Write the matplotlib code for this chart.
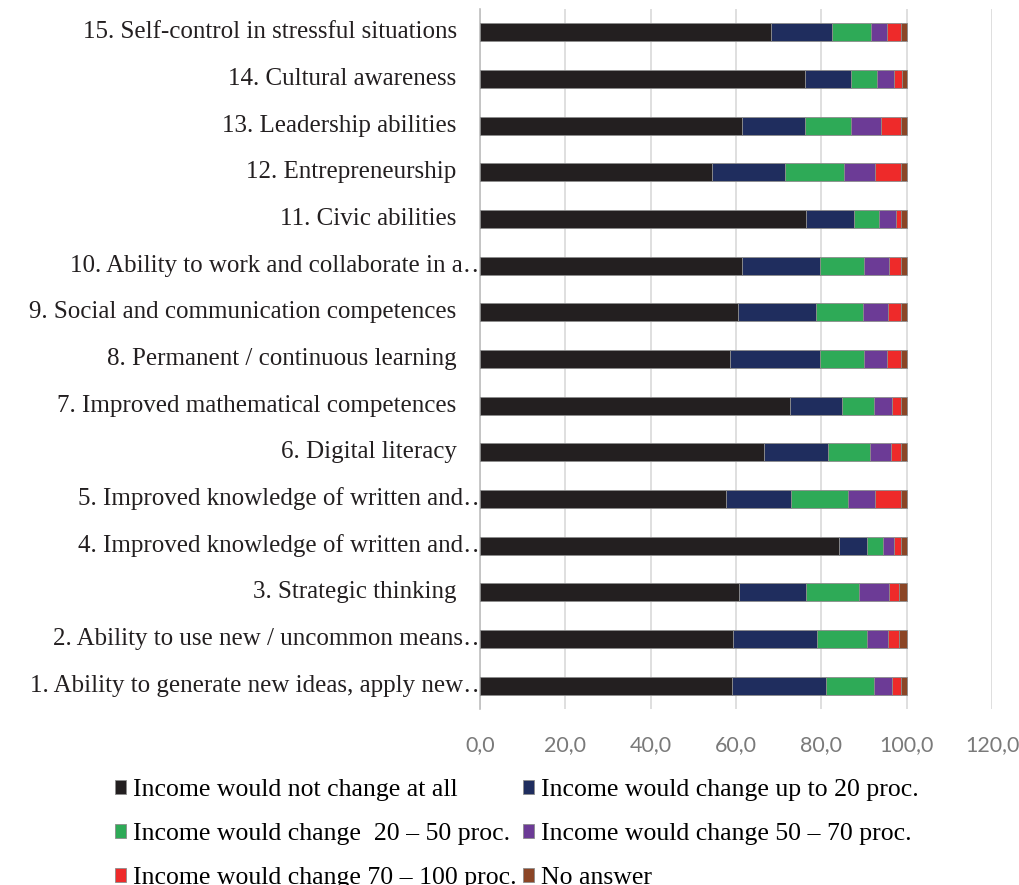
import numpy as np
import matplotlib
matplotlib.use('Agg')
import matplotlib.pyplot as plt
import matplotlib.transforms as mtransforms

# competences, bottom to top
labels = [
    '1. Ability to generate new ideas, apply new…',
    '2. Ability to use new / uncommon means…',
    '3. Strategic thinking ',
    '4. Improved knowledge of written and…',
    '5. Improved knowledge of written and…',
    '6. Digital literacy ',
    '7. Improved mathematical competences ',
    '8. Permanent / continuous learning ',
    '9. Social and communication competences ',
    '10. Ability to work and collaborate in a…',
    '11. Civic abilities ',
    '12. Entrepreneurship ',
    '13. Leadership abilities ',
    '14. Cultural awareness ',
    '15. Self-control in stressful situations ',
]
truncated = [0, 1, 3, 4, 9]

no_change = [59.1, 59.4, 60.7, 84.1, 57.6, 66.5, 72.6, 58.6, 60.5, 61.3, 76.5, 54.4, 61.5, 76.2, 68.1]
up_to_20 = [22.1, 19.7, 15.8, 6.6, 15.2, 15.0, 12.2, 21.0, 18.2, 18.3, 11.2, 17.1, 14.7, 10.8, 14.4]
from_20_50 = [11.1, 11.6, 12.3, 3.7, 13.4, 9.9, 7.5, 10.3, 11.0, 10.3, 5.8, 13.9, 10.8, 6.0, 9.2]
from_50_70 = [4.2, 4.9, 7.1, 2.6, 6.4, 4.9, 4.2, 5.5, 6.0, 6.0, 4.0, 7.2, 7.1, 4.0, 3.7]
from_70_100 = [2.1, 2.7, 2.4, 1.6, 6.0, 2.3, 2.1, 3.2, 2.9, 2.7, 1.2, 6.0, 4.5, 1.8, 3.2]
no_answer = [1.4, 1.7, 1.7, 1.4, 1.4, 1.4, 1.4, 1.4, 1.4, 1.4, 1.3, 1.4, 1.4, 1.2, 1.4]

series = [
    ('Income would not change at all', no_change, '#231f20'),
    ('Income would change up to 20 proc.', up_to_20, '#1f2d5e'),
    ('Income would change  20 – 50 proc.', from_20_50, '#2eaa57'),
    ('Income would change 50 – 70 proc.', from_50_70, '#6c3b96'),
    ('Income would change 70 – 100 proc.', from_70_100, '#ee2a2a'),
    ('No answer', no_answer, '#8b4526'),
]

fig = plt.figure(figsize=(10.2, 8.85), dpi=100)
ax = fig.add_axes([480 / 1020, 176 / 885, 512 / 1020, 700 / 885])

y = np.arange(len(labels))
left = np.zeros(len(labels))
handles = []
for name, vals, col in series:
    vals = np.array(vals)
    b = ax.barh(y, vals, left=left, height=0.38, color=col, label=name,
                edgecolor='#8c8c8c', linewidth=0.6, zorder=3)
    handles.append(b)
    left += vals

ax.set_xlim(0, 120)
ax.set_ylim(-0.5, len(labels) - 0.5)
ax.set_xticks(np.arange(0, 121, 20))
ax.set_xticklabels([f'{v:.1f}'.replace('.', ',') for v in np.arange(0, 121, 20)],
                   fontsize=15.5, color='#7a7a7a', family='Lato')
ax.tick_params(axis='x', length=0, pad=19)
ax.tick_params(axis='y', length=0, labelleft=False)
ax.grid(axis='x', color='#d9d9d9', linewidth=1.2, zorder=0)
for s in ['top', 'right', 'bottom']:
    ax.spines[s].set_visible(False)
ax.spines['left'].set_color('#bfbfbf')
ax.spines['left'].set_linewidth(1.2)

# category labels, long ones run over the axis line
trans = mtransforms.blended_transform_factory(ax.transAxes, ax.transData)
for i, lab in enumerate(labels):
    dx = 8 if i in truncated else -17
    off = mtransforms.ScaledTranslation(dx / 100, 0, fig.dpi_scale_trans)
    ax.text(0, i, lab, transform=trans + off, ha='right', va='center',
            fontsize=18, family='Liberation Serif', color='#231f20')

# legend filled row by row
order = [0, 2, 4, 1, 3, 5]
fig.legend([handles[k] for k in order], [series[k][0] for k in order],
           loc='upper left', bbox_to_anchor=(102 / 1020, 1 - 766 / 885), ncol=2,
           frameon=False, prop={'family': 'Liberation Serif', 'size': 18.5},
           handlelength=0.45, handleheight=0.45, handletextpad=0.25,
           columnspacing=0.25, labelspacing=0.86, borderpad=0)

fig.savefig('out.png', dpi=100)
